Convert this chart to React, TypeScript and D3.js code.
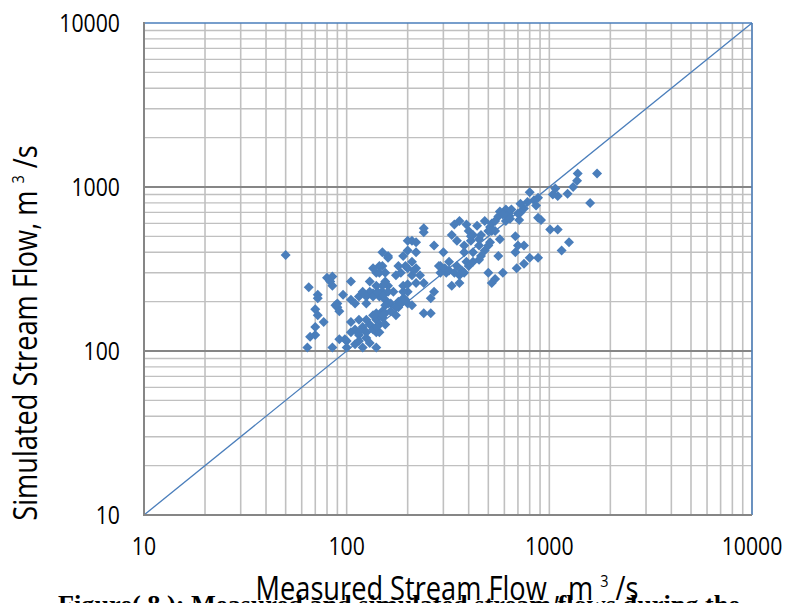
import React, { useEffect, useRef } from "react";
import * as d3 from "d3";

// measured (x) and simulated (y) stream flows, m3/s
const measured = [
  50, 1720, 1380, 1590, 1370, 1310, 1230, 1070, 1040, 1100,
  1010, 1100, 1250, 1150, 800, 840, 860, 880, 750, 720,
  880, 910, 710, 650, 630, 610, 570, 560, 520, 480,
  500, 540, 570, 680, 700, 750, 680, 800, 880, 750,
  690, 590, 560, 500, 520, 540, 450, 420, 390, 360,
  340, 330, 350, 380, 410, 450, 440, 400, 380, 390,
  370, 350, 320, 300, 290, 310, 330, 360, 290, 270,
  260, 240, 260, 240, 230, 220, 220, 210, 220, 200,
  200, 210, 220, 240, 240, 270, 190, 195, 180, 175,
  185, 200, 200, 210, 190, 180, 170, 160, 155, 150,
  160, 160, 150, 150, 145, 140, 135, 145, 155, 130,
  140, 150, 130, 135, 145, 155, 165, 180, 175, 155,
  150, 145, 140, 130, 150, 140, 145, 135, 120, 110,
  105, 115, 115, 100, 110, 100, 140, 120, 125, 98,
  110, 105, 115, 105, 125, 120, 96, 90, 90, 92,
  88, 92, 85, 80, 85, 85, 83, 72, 72, 70,
  72, 77, 70, 70, 66, 64, 65, 190, 285, 305,
  320, 340, 360, 380, 400, 420, 450, 460, 480, 500,
  510, 610, 630, 620, 640, 700, 590, 540, 510, 520,
  460, 420, 410, 720, 780, 125, 135, 142, 152, 160,
  160, 175, 185, 195, 190, 200, 210, 215, 200, 125,
  135, 140, 150, 155, 165, 145, 155, 140, 125, 115,
  105, 115, 130,
];

const simulated = [
  385, 1210, 1210, 800, 1090, 1000, 910, 980, 900, 880,
  550, 550, 460, 410, 930, 830, 770, 860, 740, 700,
  650, 630, 630, 730, 670, 620, 710, 660, 600, 620,
  540, 540, 480, 500, 440, 440, 400, 370, 370, 340,
  320, 300, 380, 300, 260, 275, 440, 400, 590, 620,
  590, 510, 470, 440, 470, 480, 580, 540, 400, 350,
  310, 330, 350, 400, 330, 300, 250, 260, 300, 230,
  210, 170, 170, 260, 290, 260, 320, 350, 400, 410,
  470, 470, 460, 560, 530, 440, 380, 330, 330, 290,
  300, 230, 195, 190, 210, 200, 230, 250, 265, 230,
  380, 370, 400, 330, 330, 300, 320, 300, 300, 265,
  250, 250, 230, 225, 215, 205, 195, 185, 165, 190,
  175, 165, 155, 145, 160, 130, 130, 135, 140, 135,
  150, 155, 125, 115, 110, 105, 105, 105, 120, 118,
  195, 205, 215, 265, 195, 230, 220, 195, 185, 175,
  190, 118, 105, 280, 285, 250, 265, 220, 210, 180,
  165, 150, 140, 125, 122, 105, 245, 230, 330, 320,
  310, 300, 290, 300, 330, 350, 360, 380, 410, 440,
  460, 730, 690, 660, 640, 690, 680, 620, 570, 540,
  510, 510, 500, 790, 810, 215, 215, 230, 220, 230,
  195, 185, 195, 205, 250, 255, 290, 310, 320, 155,
  165, 170, 165, 170, 175, 145, 145, 140, 130, 130,
  130, 115, 112,
];

const majorTicks = [10, 100, 1000, 10000];
const tickLabels = ["10", "100", "1000", "10000"];

const W = 785;
const H = 603;
const blue = "#4a7ebb";
const font = "'Open Sans', sans-serif";

export default function App() {
  const ref = useRef<SVGSVGElement>(null);

  useEffect(() => {
    const svg = d3.select(ref.current);
    svg.selectAll("*").remove();

    const x = d3.scaleLog().domain([10, 10000]).range([144, 752]);
    const y = d3.scaleLog().domain([10, 10000]).range([515, 23]);

    const minorX = x.ticks().filter(v => !majorTicks.includes(v));
    const minorY = y.ticks().filter(v => !majorTicks.includes(v));

    // minor horizontal grid
    svg.append("g").selectAll("line").data(minorY).join("line")
      .attr("x1", 144).attr("x2", 752)
      .attr("y1", d => y(d)).attr("y2", d => y(d))
      .attr("stroke", "#c0c0c0").attr("stroke-width", 1.3);

    // vertical grid (all same)
    svg.append("g").selectAll("line").data(x.ticks()).join("line")
      .attr("x1", d => x(d)).attr("x2", d => x(d))
      .attr("y1", 23).attr("y2", 515)
      .attr("stroke", "#c0c0c0").attr("stroke-width", 1.6);

    // major horizontal grid
    svg.append("g").selectAll("line").data([100, 1000]).join("line")
      .attr("x1", 144).attr("x2", 752)
      .attr("y1", d => y(d)).attr("y2", d => y(d))
      .attr("stroke", "#868686").attr("stroke-width", 2);

    // 1:1 line
    const line = d3.line<number>().x(d => x(d)).y(d => y(d));
    svg.append("path").datum([10, 10000])
      .attr("d", line)
      .attr("fill", "none").attr("stroke", blue).attr("stroke-width", 1.3);

    // points
    const pts = measured.map((m, i) => ({ m, s: simulated[i] }));
    const sym = d3.symbol(d3.symbolSquare, 50);
    svg.append("g").selectAll("path").data(pts).join("path")
      .attr("d", sym)
      .attr("transform", d => `translate(${x(d.m)},${y(d.s)}) rotate(45)`)
      .attr("fill", blue);

    // borders
    svg.append("line").attr("x1", 144).attr("x2", 752).attr("y1", 23).attr("y2", 23)
      .attr("stroke", blue).attr("stroke-width", 1.5);
    svg.append("line").attr("x1", 752).attr("x2", 752).attr("y1", 23).attr("y2", 515)
      .attr("stroke", blue).attr("stroke-width", 1.5);
    svg.append("line").attr("x1", 144).attr("x2", 752).attr("y1", 515).attr("y2", 515)
      .attr("stroke", "#868686").attr("stroke-width", 2);
    svg.append("line").attr("x1", 144).attr("x2", 144).attr("y1", 22).attr("y2", 516)
      .attr("stroke", "#868686").attr("stroke-width", 2);

    // tick labels
    svg.append("g").selectAll("text").data(majorTicks).join("text")
      .attr("transform", d => `translate(120,${y(d) + 9}) scale(0.85,1)`)
      .attr("text-anchor", "end")
      .style("font-family", font).style("font-size", "25px")
      .text((d, i) => tickLabels[i]);

    svg.append("g").selectAll("text").data(majorTicks).join("text")
      .attr("transform", d => `translate(${x(d)},555) scale(0.85,1)`)
      .attr("text-anchor", "middle")
      .style("font-family", font).style("font-size", "25px")
      .text((d, i) => tickLabels[i]);

    // axis titles
    const xt = svg.append("text")
      .attr("transform", "translate(447,600) scale(0.85,1)")
      .attr("text-anchor", "middle")
      .style("font-family", font).style("font-size", "32px");
    xt.append("tspan").text("Measured Stream Flow , m ");
    xt.append("tspan").attr("dy", -13).style("font-size", "17px").text("3");
    xt.append("tspan").attr("dy", 13).text(" /s");

    const yt = svg.append("text")
      .attr("transform", "translate(37,333) rotate(-90) scale(0.85,1)")
      .attr("text-anchor", "middle")
      .style("font-family", font).style("font-size", "32px");
    yt.append("tspan").text("Simulated Stream Flow, m ");
    yt.append("tspan").attr("dy", -13).style("font-size", "17px").text("3");
    yt.append("tspan").attr("dy", 13).text(" /s");

    // figure caption (cut off at the bottom)
    svg.append("text")
      .attr("x", 58).attr("y", 613)
      .attr("textLength", 682).attr("lengthAdjust", "spacingAndGlyphs")
      .style("font-family", "'Liberation Serif', serif")
      .style("font-weight", "bold").style("font-size", "26px")
      .text("Figure( 8 ): Measured and simulated stream flows during the");
  }, []);

  return (
    <svg
      ref={ref}
      width={W}
      height={H}
      style={{ position: "absolute", left: 0, top: 0, background: "#fff" }}
    />
  );
}
